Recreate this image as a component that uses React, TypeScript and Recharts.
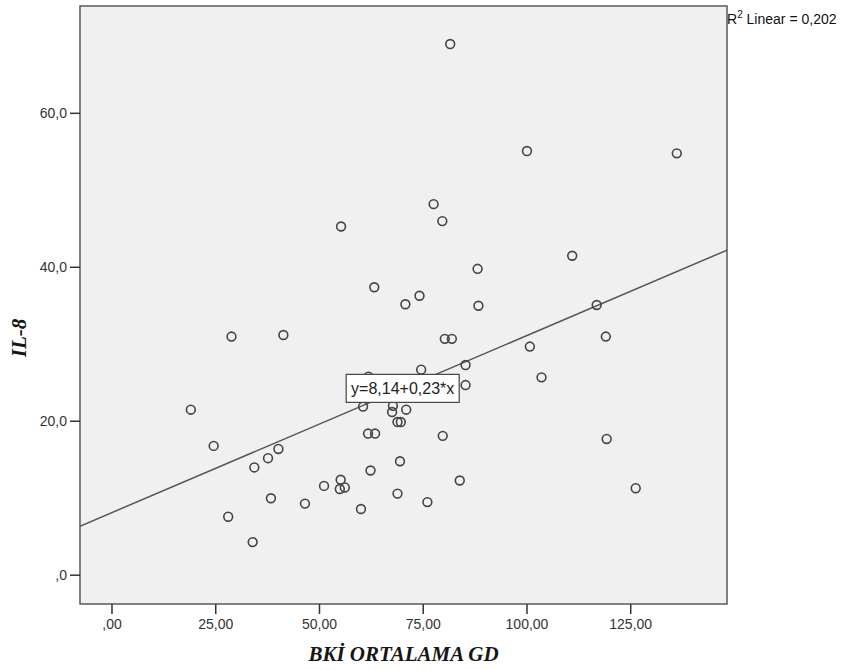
import { ScatterChart, Scatter, XAxis, YAxis, CartesianGrid, ReferenceArea, ReferenceLine, ReferenceDot } from "recharts";

// BKİ ORTALAMA GD (x) and IL-8 (y)
const bki = [
  81.5, 100.0, 136.1, 55.2, 77.5, 79.6, 88.1, 63.2, 110.9, 116.8,
  119.0, 119.2, 126.2, 74.1, 70.7, 88.3, 80.2, 81.9, 100.7, 85.2,
  74.5, 103.5, 85.2, 60.5, 67.7, 67.5, 70.9, 68.8, 69.6, 61.7,
  63.4, 79.7, 69.4, 62.3, 83.8, 68.8, 76.0, 60.0, 61.8, 28.8,
  41.3, 19.0, 24.5, 40.1, 37.6, 34.3, 38.3, 28.0, 33.9, 51.1,
  55.1, 54.9, 56.1, 46.5,
];
const il8 = [
  69.0, 55.1, 54.8, 45.3, 48.2, 46.0, 39.8, 37.4, 41.5, 35.1,
  31.0, 17.7, 11.3, 36.3, 35.2, 35.0, 30.7, 30.7, 29.7, 27.3,
  26.7, 25.7, 24.7, 21.9, 22.0, 21.2, 21.5, 19.9, 19.9, 18.4,
  18.4, 18.1, 14.8, 13.6, 12.3, 10.6, 9.5, 8.6, 25.8, 31.0,
  31.2, 21.5, 16.8, 16.4, 15.2, 14.0, 10.0, 7.6, 4.3, 11.6,
  12.4, 11.2, 11.4, 9.3,
];

const xTicks = [0, 25, 50, 75, 100, 125];
const yTicks = [0, 20, 40, 60];

const fitIntercept = 8.14;
const fitSlope = 0.23;
const fitText = "y=8,14+0,23*x";
const r2Text = "0,202";

const X_MIN = -7.71;
const X_MAX = 148.2;
const Y_MIN = -3.74;
const Y_MAX = 73.94;

const points = bki.map((x, i) => ({ x, y: il8[i] }));
const fitAt = (x: number) => fitIntercept + fitSlope * x;

// SPSS-style comma decimals, leading zero dropped
const fmt = (v: number, d: number) => {
  const s = v.toFixed(d).replace(".", ",");
  return s.startsWith("0,") ? s.slice(1) : s;
};

const tickFont = { fill: "#333", fontSize: 14, fontFamily: "'Liberation Sans', Arial, sans-serif" };

const Ring = (p: any) => (
  <circle cx={p.cx} cy={p.cy} r={4.4} fill="none" stroke="#444" strokeWidth={1.6} />
);

const FitBox = (p: any) => (
  <g>
    <rect x={p.cx - 56.5} y={p.cy - 14} width={113} height={28} fill="#fff" stroke="#444" strokeWidth={1.2} />
    <text x={p.cx} y={p.cy + 5.5} textAnchor="middle" fontSize={16} fill="#222" fontFamily="'Liberation Sans', Arial, sans-serif">
      {fitText}
    </text>
  </g>
);

const XTitle = () => (
  <text x={403.5} y={661} textAnchor="middle" fontSize={21} fontWeight="bold" fontStyle="italic" fill="#161616" fontFamily="'Liberation Serif', 'Times New Roman', serif">
    BKİ ORTALAMA GD
  </text>
);

const YTitle = () => (
  <text x={0} y={0} transform="translate(26 338) rotate(-90)" textAnchor="middle" fontSize={21} fontWeight="bold" fontStyle="italic" fill="#161616" fontFamily="'Liberation Serif', 'Times New Roman', serif">
    IL-8
  </text>
);

export default function App() {
  return (
    <div style={{ position: "absolute", left: 0, top: 0, width: 848, height: 670, background: "#fff" }}>
      <ScatterChart width={848} height={670} margin={{ top: 6, right: 121, bottom: 0, left: 0 }}>
        <CartesianGrid fill="#f0f0f0" horizontal={false} vertical={false} />
        <XAxis
          dataKey="x"
          type="number"
          domain={[X_MIN, X_MAX]}
          allowDataOverflow
          ticks={xTicks}
          tickFormatter={(v: number) => fmt(v, 2)}
          tick={tickFont}
          tickSize={10}
          tickMargin={5}
          tickLine={{ stroke: "#333", strokeWidth: 1.5 }}
          axisLine={false}
          height={66}
          label={<XTitle />}
        />
        <YAxis
          dataKey="y"
          type="number"
          domain={[Y_MIN, Y_MAX]}
          allowDataOverflow
          ticks={yTicks}
          tickFormatter={(v: number) => fmt(v, 1)}
          tick={tickFont}
          tickSize={10}
          tickMargin={3}
          tickLine={{ stroke: "#333", strokeWidth: 1.5 }}
          axisLine={false}
          width={80}
          label={<YTitle />}
        />
        <ReferenceLine
          segment={[
            { x: X_MIN, y: fitAt(X_MIN) },
            { x: X_MAX, y: fitAt(X_MAX) },
          ]}
          stroke="#555"
          strokeWidth={1.5}
          ifOverflow="hidden"
        />
        <Scatter data={points} shape={Ring} isAnimationActive={false} />
        <ReferenceDot x={70.05} y={24.27} shape={FitBox} ifOverflow="visible" />
        <ReferenceArea x1={X_MIN} x2={X_MAX} y1={Y_MIN} y2={Y_MAX} fill="none" stroke="#5a5a5a" strokeWidth={1.5} ifOverflow="visible" />
      </ScatterChart>
      <div style={{ position: "absolute", left: 727, top: 9, fontSize: 14, color: "#111", fontFamily: "'Liberation Sans', Arial, sans-serif", whiteSpace: "nowrap" }}>
        R<sup style={{ fontSize: 10 }}>2</sup> Linear = {r2Text}
      </div>
    </div>
  );
}
